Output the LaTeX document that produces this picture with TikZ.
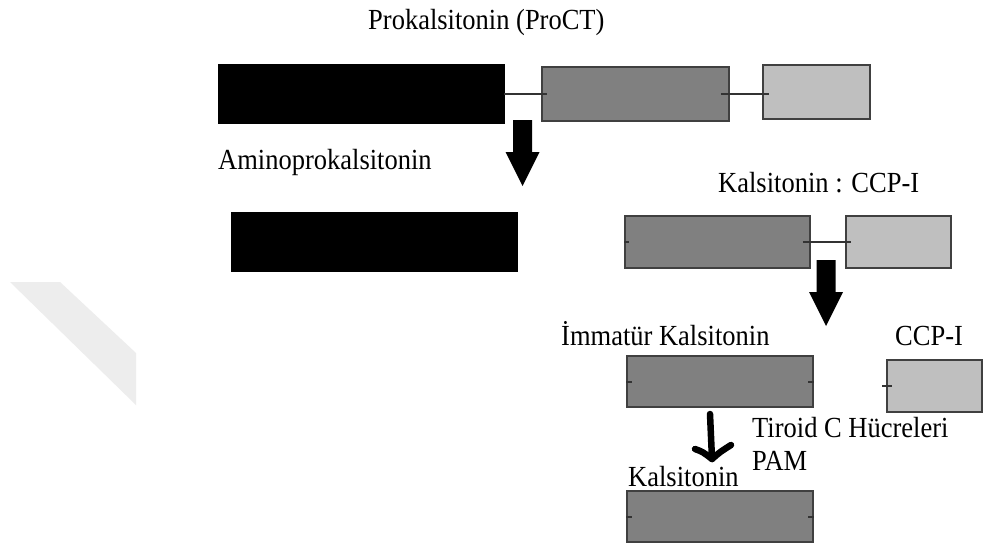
\documentclass[tikz,border=0pt]{standalone}
\usepackage{fontspec}
\setmainfont{Liberation Serif}
\newcommand\stretchtxt[1]{\scalebox{1}[1.1]{#1}}
\begin{document}
\begin{tikzpicture}[x=1pt,y=-1pt,
  lbl/.style={anchor=base west, inner sep=0pt, font=\fontsize{26.5}{30}\selectfont},
  blk/.style={fill=black, draw=black, line width=0.8pt, inner sep=0pt},
  midbox/.style={fill=black!50, draw=black!75, line width=1.5pt, inner sep=0pt},
  lightbox/.style={fill=black!25, draw=black!75, line width=1.5pt, inner sep=0pt},
  link/.style={draw=black!80, line width=2pt},
  blockarrow/.pic={\fill[black] (-9.5,0) -- (9.5,0) -- (9.5,32) -- (17,32) -- (0,66) -- (-17,32) -- (-9.5,32) -- cycle;}
]
\fill[white] (0,0) rectangle (985,549);
\useasboundingbox (0,0) rectangle (985,549);
% watermark
\fill[black!7] (10,282) -- (60,282) -- (136,353) -- (136,405) -- cycle;

% texts
\node[lbl] (t1) at (368,29) {\stretchtxt{Prokalsitonin (ProCT)}};
\node[lbl] (t2) at (218,169) {\stretchtxt{Aminoprokalsitonin}};
\node[lbl] (t3) at (718,192) {\stretchtxt{Kalsitonin : CCP-I}};
\node[lbl] (t4) at (561,345) {\stretchtxt{İmmatür Kalsitonin}};
\node[lbl] (t5) at (895,345) {\stretchtxt{CCP-I}};
\node[lbl] (t6) at (752,437) {\stretchtxt{Tiroid C Hücreleri}};
\node[lbl] (t7) at (752,470) {\stretchtxt{PAM}};
\node[lbl] (t8) at (628,486) {\stretchtxt{Kalsitonin}};

% boxes
\node[blk, minimum width=286pt, minimum height=59pt] (A) at (361,93.5) {};
\node[midbox, minimum width=187pt, minimum height=54pt] (B) at (635.5,94) {};
\node[lightbox, minimum width=107pt, minimum height=54pt] (C) at (816.5,92) {};
\node[blk, minimum width=286pt, minimum height=59pt] (D) at (374,241.5) {};
\node[midbox, minimum width=185pt, minimum height=52pt] (B2) at (717.5,242) {};
\node[lightbox, minimum width=105pt, minimum height=52pt] (C2) at (898.5,242) {};
\node[midbox, minimum width=186pt, minimum height=51pt] (B3) at (720,381.5) {};
\node[lightbox, minimum width=95pt, minimum height=52pt] (C3) at (934.5,386) {};
\node[midbox, minimum width=186pt, minimum height=51pt] (B4) at (720,516.5) {};

% connectors and stubs
\draw[link] (A.east) -- ([xshift=6pt]A.east -| B.west);
\draw[link] ([xshift=-9pt]B.east) -- ([xshift=7pt]B.east -| C.west);
\draw[link] ([xshift=-8pt]B2.east) -- ([xshift=6pt]B2.east -| C2.west);
\draw[link] (B2.west) -- ([xshift=5pt]B2.west);
\draw[link] (B3.west) -- ([xshift=6pt]B3.west);
\draw[link] (B3.east) -- ([xshift=-6pt]B3.east);
\draw[link] ([xshift=-4pt]C3.west) -- ([xshift=6pt]C3.west);
\draw[link] (B4.west) -- ([xshift=6pt]B4.west);
\draw[link] (B4.east) -- ([xshift=-6pt]B4.east);

% block arrows
\coordinate (a1) at (522.5,120);
\coordinate (a2) at (826,260);
\pic at (a1) {blockarrow};
\pic at (a2) {blockarrow};

% line arrow
\coordinate (a3top) at (710,414);
\coordinate (a3tip) at (712,459);
\draw[line width=6.5pt, line cap=round, line join=round] (a3top) -- (a3tip);
\draw[line width=6.5pt, line cap=round, line join=round]
  (695,449) .. controls (703,452) .. (a3tip) .. controls (720,452) .. (731,445);
\end{tikzpicture}
\end{document}
